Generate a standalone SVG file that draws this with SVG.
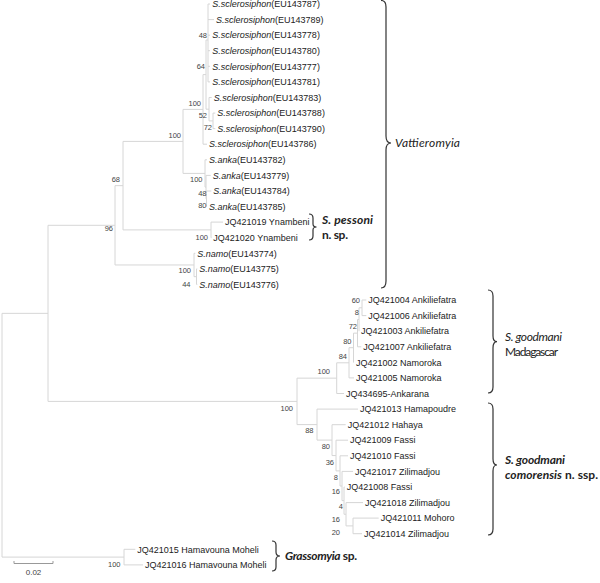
<svg xmlns="http://www.w3.org/2000/svg" width="600" height="583" viewBox="0 0 600 583">
<style>
.br{stroke:#d6d6d6;stroke-width:1;fill:none}
.lf{font-family:'Liberation Sans',Arial,sans-serif;font-size:9px;fill:#222}
.bs{font-family:'Liberation Sans',Arial,sans-serif;font-size:7.5px;fill:#444;text-anchor:end}
.an{font-family:Lato,'Open Sans',sans-serif;font-size:12px;fill:#222}
.brace{stroke:#333;stroke-width:1.2;fill:none}
.it{font-style:italic}
.b{font-weight:bold}
.sc{stroke:#999;stroke-width:1;fill:none}
</style>
<rect width="600" height="583" fill="#fff"/>
<g id="connectors" class="br">
<path d="M2 313.35V557.1M2 313.35H48M2 557.1H124"/>
<path d="M48 225.3V401.4M48 225.3H115M48 401.4H297"/>
<path d="M115 185.65V264.97M115 185.65H123M115 264.97H194"/>
<path d="M123 141.4V229.9M123 141.4H183M123 229.9H211"/>
<path d="M183 109.4V173.4M183 109.4H203M183 173.4H205"/>
<path d="M203 74.6V144.2M203 74.6H206M203 144.2H207"/>
<path d="M206 40V109.2M206 40H208M206 109.2H209"/>
<path d="M208 4V81.9M208 4H210M208 19.6H214M208 35.2H210M208 50.7H210M208 66.3H210M208 81.9H210"/>
<path d="M209 97.5V120.9M209 97.5H211.7M209 120.9H213"/>
<path d="M213 113.1V128.6M213 113.1H215.3M213 128.6H215.3"/>
<path d="M205 159.8V187.1M205 159.8H207M205 187.1H206"/>
<path d="M206 175.4V198.8M206 175.4H210.7M206 198.8H206.5"/>
<path d="M206.5 191V206.5M206.5 191H211.3M206.5 206.5H207"/>
<path d="M211 222.1V237.7M211 222.1H223M211 237.7H211.5"/>
<path d="M194 253.3V276.65M194 253.3H195.3M194 276.65H196.5"/>
<path d="M196.5 268.9V284.4M196.5 268.9H197.3M196.5 284.4H197.3"/>
<path d="M297 378.15V424.6M297 378.15H336.7M297 424.6H317"/>
<path d="M336.7 362.8V393.5M336.7 362.8H349M336.7 393.5H344"/>
<path d="M349 347.7V377.9M349 347.7H353.5M349 377.9H354"/>
<path d="M353.5 333.15V362.3M353.5 333.15H357.5M353.5 362.3H354"/>
<path d="M357.5 319.5V346.8M357.5 319.5H359M357.5 346.8H361.3"/>
<path d="M359 307.8V331.2M359 307.8H362"/>
<path d="M362 300V315.6M362 300H366.3M362 315.6H366.3"/>
<path d="M317 409.1V440.1M317 409.1H358M317 440.1H332"/>
<path d="M332 424.7V455.55M332 424.7H345.7M332 455.55H336"/>
<path d="M336 440.2V470.9M336 440.2H348M336 470.9H340"/>
<path d="M340 455.8V486M340 455.8H348M340 486H342"/>
<path d="M342 471.4V500.6M342 471.4H353M342 500.6H344"/>
<path d="M344 487V514.25M344 487H344.7M344 514.25H346"/>
<path d="M346 502.6V525.9M346 502.6H363M346 525.9H353"/>
<path d="M353 518.1V533.7M353 518.1H378.7M353 533.7H362"/>
<path d="M124 549.3V564.9M124 549.3H135.3M124 564.9H143"/>
</g>
<g id="leaves" class="lf">
<g id="n1"><text x="212.3" y="7.2"><tspan class="it">S.sclerosiphon</tspan>(EU143787)</text></g>
<g id="n2"><text x="216" y="22.8"><tspan class="it">S.sclerosiphon</tspan>(EU143789)</text></g>
<g id="n3"><text x="212.3" y="38.4"><tspan class="it">S.sclerosiphon</tspan>(EU143778)</text></g>
<g id="n4"><text x="212.3" y="53.9"><tspan class="it">S.sclerosiphon</tspan>(EU143780)</text></g>
<g id="n5"><text x="212.3" y="69.5"><tspan class="it">S.sclerosiphon</tspan>(EU143777)</text></g>
<g id="n6"><text x="212.3" y="85.1"><tspan class="it">S.sclerosiphon</tspan>(EU143781)</text></g>
<g id="n7"><text x="213.7" y="100.7"><tspan class="it">S.sclerosiphon</tspan>(EU143783)</text></g>
<g id="n8"><text x="217.3" y="116.3"><tspan class="it">S.sclerosiphon</tspan>(EU143788)</text></g>
<g id="n9"><text x="217.3" y="131.8"><tspan class="it">S.sclerosiphon</tspan>(EU143790)</text></g>
<g id="n10"><text x="209" y="147.4"><tspan class="it">S.sclerosiphon</tspan>(EU143786)</text></g>
<g id="n11"><text x="209" y="163"><tspan class="it">S.anka</tspan>(EU143782)</text></g>
<g id="n12"><text x="212.7" y="178.6"><tspan class="it">S.anka</tspan>(EU143779)</text></g>
<g id="n13"><text x="213.3" y="194.2"><tspan class="it">S.anka</tspan>(EU143784)</text></g>
<g id="n14"><text x="209" y="209.7"><tspan class="it">S.anka</tspan>(EU143785)</text></g>
<g id="n15"><text x="225" y="225.3">JQ421019 Ynambeni</text></g>
<g id="n16"><text x="213.3" y="240.9">JQ421020 Ynambeni</text></g>
<g id="n17"><text x="197.3" y="256.5"><tspan class="it">S.namo</tspan>(EU143774)</text></g>
<g id="n18"><text x="199.3" y="272.1"><tspan class="it">S.namo</tspan>(EU143775)</text></g>
<g id="n19"><text x="199.3" y="287.6"><tspan class="it">S.namo</tspan>(EU143776)</text></g>
<g id="n20"><text x="368.3" y="303.2">JQ421004 Ankiliefatra</text></g>
<g id="n21"><text x="368.3" y="318.8">JQ421006 Ankiliefatra</text></g>
<g id="n22"><text x="361" y="334.4">JQ421003 Ankiliefatra</text></g>
<g id="n23"><text x="363.3" y="350">JQ421007 Ankiliefatra</text></g>
<g id="n24"><text x="356" y="365.5">JQ421002 Namoroka</text></g>
<g id="n25"><text x="356" y="381.1">JQ421005 Namoroka</text></g>
<g id="n26"><text x="346" y="396.7">JQ434695-Ankarana</text></g>
<g id="n27"><text x="360" y="412.3">JQ421013 Hamapoudre</text></g>
<g id="n28"><text x="347.7" y="427.9">JQ421012 Hahaya</text></g>
<g id="n29"><text x="350" y="443.4">JQ421009 Fassi</text></g>
<g id="n30"><text x="350" y="459">JQ421010 Fassi</text></g>
<g id="n31"><text x="355" y="474.6">JQ421017 Zilimadjou</text></g>
<g id="n32"><text x="346.7" y="490.2">JQ421008 Fassi</text></g>
<g id="n33"><text x="365" y="505.8">JQ421018 Zilimadjou</text></g>
<g id="n34"><text x="380.7" y="521.3">JQ421011 Mohoro</text></g>
<g id="n35"><text x="364" y="536.9">JQ421014 Zilimadjou</text></g>
<g id="n36"><text x="137.3" y="552.5">JQ421015 Hamavouna Moheli</text></g>
<g id="n37"><text x="145" y="568.1">JQ421016 Hamavouna Moheli</text></g>
</g>
<g id="bootstrap" class="bs">
<text x="207" y="37.7">48</text>
<text x="205" y="68.7">64</text>
<text x="201" y="105.7">100</text>
<text x="207" y="117.7">52</text>
<text x="212" y="129.7">72</text>
<text x="181" y="137.7">100</text>
<text x="202.5" y="181.7">100</text>
<text x="206.5" y="195.7">48</text>
<text x="206.5" y="207.7">80</text>
<text x="120" y="181.7">68</text>
<text x="113" y="230.7">96</text>
<text x="208" y="239.7">100</text>
<text x="191" y="272.7">100</text>
<text x="190.5" y="286.7">44</text>
<text x="360" y="303.2">60</text>
<text x="359" y="315.2">8</text>
<text x="357" y="328.7">72</text>
<text x="351.5" y="343.7">80</text>
<text x="347" y="358.7">84</text>
<text x="330" y="374.4">100</text>
<text x="293" y="410.7">100</text>
<text x="313.5" y="432.7">88</text>
<text x="330" y="448.7">80</text>
<text x="334" y="465.4">36</text>
<text x="338" y="480">8</text>
<text x="340" y="494.4">16</text>
<text x="343" y="508.7">4</text>
<text x="340" y="522">16</text>
<text x="340" y="535.4">20</text>
<text x="120.5" y="567">100</text>
</g>
<g id="scale">
<path class="sc" d="M14 561V563.5H53V561"/>
<text x="33.5" y="575" font-family="'Liberation Sans',Arial,sans-serif" font-size="8" fill="#444" text-anchor="middle">0.02</text>
</g>
<g id="vattieromyia">
<path class="brace" d="M381 0.5Q386 0.5 386 7L386 136Q386 143 391 143Q386 143 386 150L386 281Q386 288 381 288"/>
<text class="an it" x="395" y="147" textLength="65">Vattieromyia</text>
</g>
<g id="pessoni">
<path class="brace" d="M309 214Q313 214 313 218L313 224Q313 227 316.5 227Q313 227 313 230L313 236Q313 240 309 240"/>
<text class="an b it" x="322" y="224" textLength="51">S. pessoni</text>
<text class="an b" x="322" y="238.5" textLength="26">n. sp.</text>
</g>
<g id="goodmani-madagascar">
<path class="brace" d="M488 290Q493 290 493 296L493 336Q493 341.7 497 341.7Q493 341.7 493 348L493 387Q493 393 488 393"/>
<text class="an it" x="505" y="341" textLength="57">S. goodmani</text>
<text class="an" x="505" y="356" textLength="53">Madagascar</text>
</g>
<g id="goodmani-comorensis">
<path class="brace" d="M488 403Q493 403 493 409L493 459Q493 465 497 465Q493 465 493 471L493 529Q493 535 488 535"/>
<text class="an b it" x="505" y="464" textLength="60">S. goodmani</text>
<text class="an b" x="505" y="478.5" textLength="93"><tspan class="it">comorensis</tspan> n. ssp.</text>
</g>
<g id="grassomyia">
<path class="brace" d="M272 541Q276 541 276 545L276 552Q276 556 280 556Q276 556 276 560L276 567Q276 571 272 571"/>
<text class="an b" x="285" y="560" textLength="72"><tspan class="it">Grassomyia</tspan> sp.</text>
</g>
</svg>
